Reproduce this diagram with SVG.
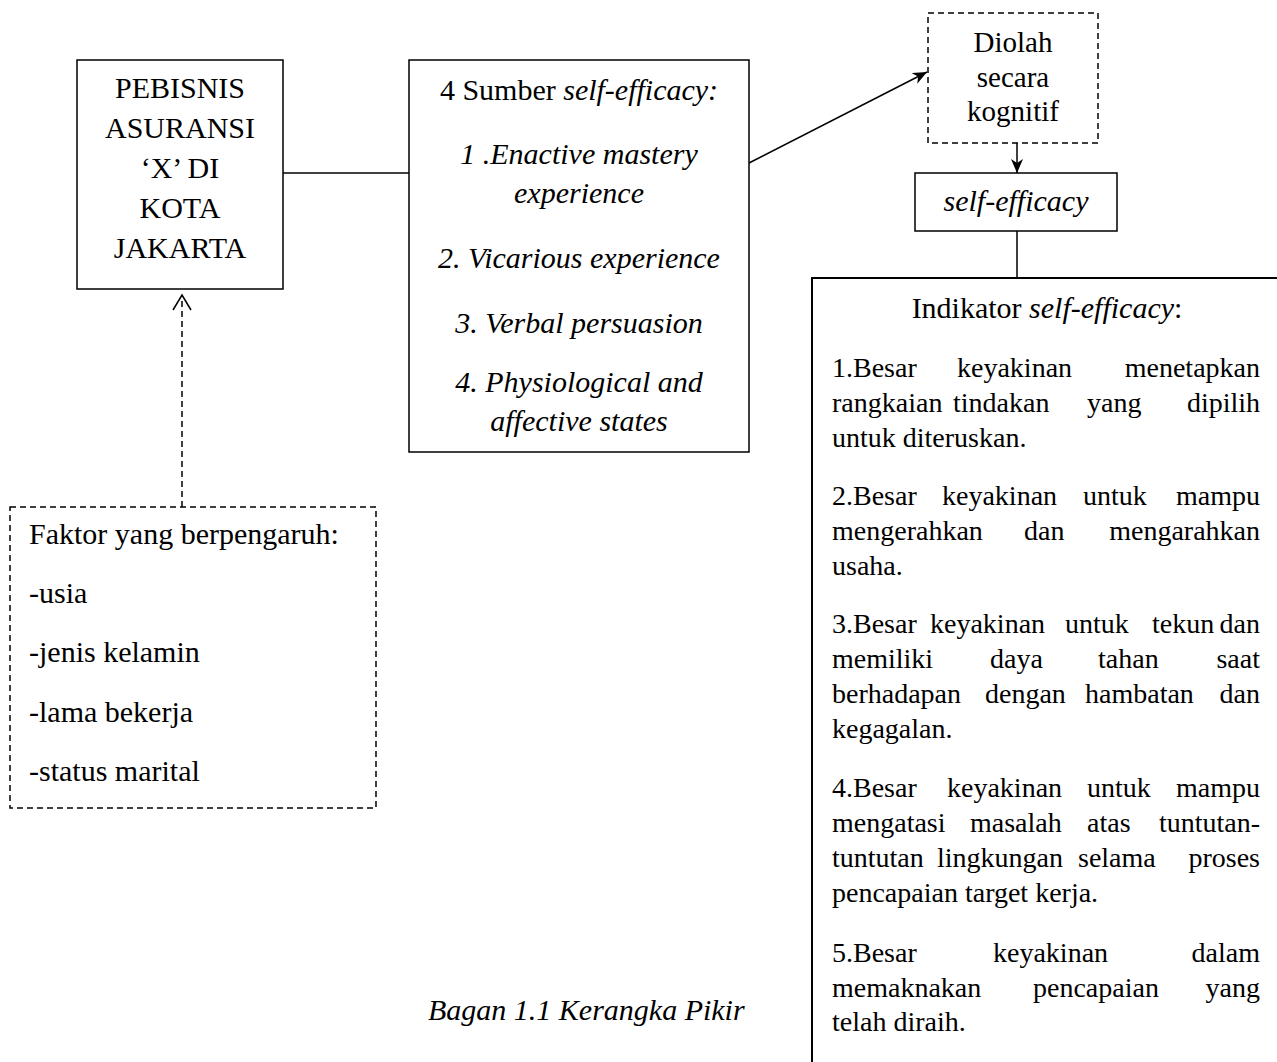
<svg xmlns="http://www.w3.org/2000/svg" width="1277" height="1062" viewBox="0 0 1277 1062">
  <defs>
    <style>
      text { font-family: "Liberation Serif", "Times New Roman", serif; fill: #000; }
      .t { font-size: 30px; }
      .d { font-size: 29px; }
      .s { font-size: 28px; }
      .h { font-size: 30px; }
      .i { font-style: italic; }
      .c { text-anchor: middle; }
      .e { text-anchor: end; }
      .box { fill: #fff; stroke: #000; stroke-width: 1.5; }
      .dbox { fill: none; stroke: #000; stroke-width: 1.5; stroke-dasharray: 6 4; }
      .ln { fill: none; stroke: #000; stroke-width: 1.5; }
      .dln { fill: none; stroke: #000; stroke-width: 1.5; stroke-dasharray: 6 4; }
    </style>
    <marker id="arr" viewBox="0 0 14 12" refX="14" refY="6" markerWidth="14" markerHeight="12" markerUnits="userSpaceOnUse" orient="auto">
      <path d="M0,0 L14,6 L0,12 L4,6 Z" fill="#000"/>
    </marker>
  </defs>

  <g id="connectors">
    <line class="ln" x1="283" y1="173" x2="409" y2="173"/>
    <line class="ln" x1="749" y1="163" x2="927" y2="72" marker-end="url(#arr)"/>
    <line class="ln" x1="1017" y1="143" x2="1017" y2="173" marker-end="url(#arr)"/>
    <line class="ln" x1="1017" y1="231" x2="1017" y2="278"/>
    <line class="dln" x1="182" y1="507" x2="182" y2="295"/>
    <polyline class="ln" points="173,310 182,295 191,310"/>
  </g>

  <g id="node-pebisnis">
    <rect class="box" x="77" y="60" width="206" height="229"/>
    <text class="t c" x="180" y="98">PEBISNIS</text>
    <text class="t c" x="180" y="138">ASURANSI</text>
    <text class="t c" x="180" y="178">‘X’ DI</text>
    <text class="t c" x="180" y="218">KOTA</text>
    <text class="t c" x="180" y="258">JAKARTA</text>
  </g>

  <g id="node-sumber">
    <rect class="box" x="409" y="60" width="340" height="392"/>
    <text class="t c" x="579" y="100">4 Sumber <tspan class="i">self-efficacy:</tspan></text>
    <text class="t c i" x="579" y="164">1 .Enactive mastery</text>
    <text class="t c i" x="579" y="203">experience</text>
    <text class="t c i" x="579" y="268">2. Vicarious experience</text>
    <text class="t c i" x="579" y="333">3. Verbal persuasion</text>
    <text class="t c i" x="579" y="392">4. Physiological and</text>
    <text class="t c i" x="579" y="431">affective states</text>
  </g>

  <g id="node-diolah">
    <rect class="dbox" x="928" y="13" width="170" height="130"/>
    <text class="d c" x="1013" y="52">Diolah</text>
    <text class="d c" x="1013" y="87">secara</text>
    <text class="d c" x="1013" y="121">kognitif</text>
  </g>

  <g id="node-self-efficacy">
    <rect class="box" x="915" y="173" width="202" height="58"/>
    <text class="t c i" x="1016" y="211">self-efficacy</text>
  </g>

  <g id="node-faktor">
    <rect class="dbox" x="10" y="507" width="366" height="301"/>
    <text class="t" x="29" y="544">Faktor yang berpengaruh:</text>
    <text class="t" x="29" y="603">-usia</text>
    <text class="t" x="29" y="662">-jenis kelamin</text>
    <text class="t" x="29" y="722">-lama bekerja</text>
    <text class="t" x="29" y="781">-status marital</text>
  </g>

  <g id="node-indikator">
    <rect class="box" x="812" y="278" width="600" height="900" style="stroke-width:2"/>
    <text class="h c" x="1047" y="318">Indikator <tspan class="i">self-efficacy</tspan>:</text>

    <text class="s" x="832" y="377">1.Besar</text>
    <text class="s" x="957" y="377">keyakinan</text>
    <text class="s e" x="1260" y="377">menetapkan</text>
    <text class="s" x="832" y="412">rangkaian</text>
    <text class="s" x="953" y="412">tindakan</text>
    <text class="s" x="1087" y="412">yang</text>
    <text class="s e" x="1260" y="412">dipilih</text>
    <text class="s" x="832" y="447">untuk diteruskan.</text>

    <text class="s" x="832" y="505">2.Besar</text>
    <text class="s" x="942" y="505">keyakinan</text>
    <text class="s" x="1083" y="505">untuk</text>
    <text class="s e" x="1260" y="505">mampu</text>
    <text class="s" x="832" y="540">mengerahkan</text>
    <text class="s" x="1024" y="540">dan</text>
    <text class="s e" x="1260" y="540">mengarahkan</text>
    <text class="s" x="832" y="575">usaha.</text>

    <text class="s" x="832" y="633">3.Besar</text>
    <text class="s" x="930" y="633">keyakinan</text>
    <text class="s" x="1065" y="633">untuk</text>
    <text class="s" x="1152" y="633">tekun</text>
    <text class="s e" x="1260" y="633">dan</text>
    <text class="s" x="832" y="668">memiliki</text>
    <text class="s" x="990" y="668">daya</text>
    <text class="s" x="1098" y="668">tahan</text>
    <text class="s e" x="1260" y="668">saat</text>
    <text class="s" x="832" y="703">berhadapan</text>
    <text class="s" x="985" y="703">dengan</text>
    <text class="s" x="1085" y="703">hambatan</text>
    <text class="s e" x="1260" y="703">dan</text>
    <text class="s" x="832" y="738">kegagalan.</text>

    <text class="s" x="832" y="797">4.Besar</text>
    <text class="s" x="947" y="797">keyakinan</text>
    <text class="s" x="1087" y="797">untuk</text>
    <text class="s e" x="1260" y="797">mampu</text>
    <text class="s" x="832" y="832">mengatasi</text>
    <text class="s" x="970" y="832">masalah</text>
    <text class="s" x="1087" y="832">atas</text>
    <text class="s e" x="1260" y="832">tuntutan-</text>
    <text class="s" x="832" y="867">tuntutan</text>
    <text class="s" x="937" y="867">lingkungan</text>
    <text class="s" x="1078" y="867">selama</text>
    <text class="s e" x="1260" y="867">proses</text>
    <text class="s" x="832" y="902">pencapaian target kerja.</text>

    <text class="s" x="832" y="962">5.Besar</text>
    <text class="s" x="993" y="962">keyakinan</text>
    <text class="s e" x="1260" y="962">dalam</text>
    <text class="s" x="832" y="997">memaknakan</text>
    <text class="s" x="1033" y="997">pencapaian</text>
    <text class="s e" x="1260" y="997">yang</text>
    <text class="s" x="832" y="1031">telah diraih.</text>
  </g>

  <g id="caption">
    <text class="t i" x="428" y="1020">Bagan 1.1 Kerangka Pikir</text>
  </g>
</svg>
